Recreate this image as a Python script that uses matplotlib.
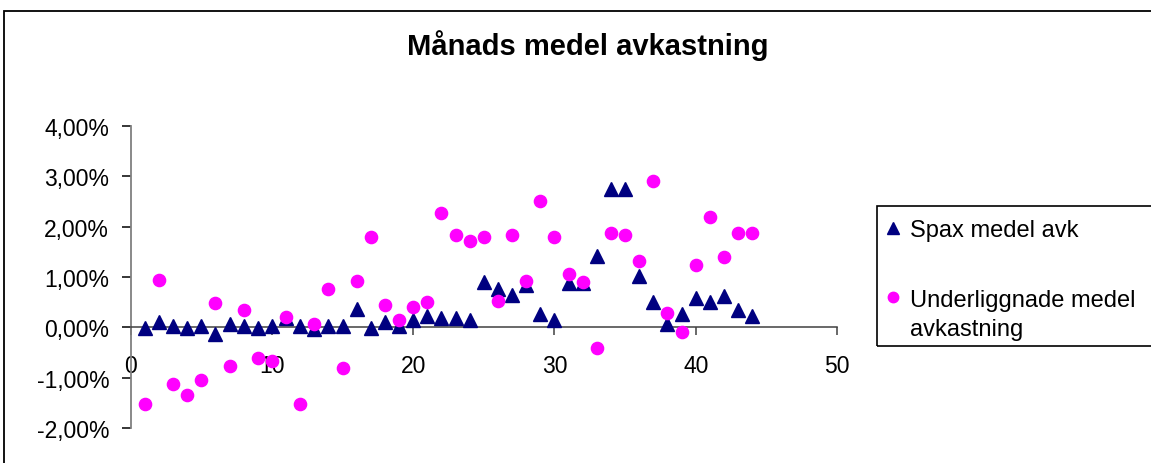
import matplotlib
matplotlib.use("Agg")
import matplotlib.pyplot as plt
from matplotlib.lines import Line2D
from matplotlib.patches import Rectangle
from matplotlib.ticker import FuncFormatter, MultipleLocator

plt.rcParams["font.family"] = ["Liberation Sans", "DejaVu Sans"]

# monthly mean returns, in percent
months = list(range(1, 45))
spax = [
    -0.02, 0.11, 0.02, -0.02, 0.02, -0.14, 0.06, 0.02, -0.02, 0.02,
    0.19, 0.02, -0.03, 0.02, 0.02, 0.36, -0.02, 0.11, 0.02, 0.14,
    0.23, 0.18, 0.18, 0.14, 0.90, 0.77, 0.65, 0.84, 0.26, 0.14,
    0.89, 0.89, 1.41, 2.75, 2.75, 1.02, 0.51, 0.06, 0.26, 0.59,
    0.51, 0.63, 0.34, 0.23,
]
underliggande = [
    -1.52, 0.94, -1.13, -1.35, -1.05, 0.49, -0.76, 0.34, -0.61, -0.66,
    0.21, -1.52, 0.06, 0.77, -0.80, 0.93, 1.80, 0.45, 0.14, 0.41,
    0.50, 2.27, 1.84, 1.72, 1.80, 0.53, 1.84, 0.92, 2.51, 1.80,
    1.05, 0.90, -0.42, 1.87, 1.84, 1.32, 2.90, 0.29, -0.10, 1.24,
    2.19, 1.40, 1.87, 1.87,
]

NAVY = "#000080"
MAGENTA = "#FF00FF"
W, H = 1151, 464

fig = plt.figure(figsize=(W / 100, H / 100), dpi=100)
fig.patch.set_facecolor("white")

# chart area border (runs off the right and bottom edges)
fig.add_artist(Rectangle((4 / W, -0.2), 1.2, 1.2 - 11.7 / H,
                         transform=fig.transFigure, fill=False,
                         edgecolor="black", linewidth=1.3))

ax = fig.add_axes([130.7 / W, 1 - 429 / H, (837 - 130.7) / W, (429 - 127) / H])
ax.set_facecolor("none")

ax.plot(months, spax, linestyle="none", marker="^", markersize=10.5,
        color=NAVY, markeredgecolor=NAVY, zorder=3, clip_on=False)
ax.plot(months, underliggande, linestyle="none", marker="o", markersize=8.8,
        color=MAGENTA, markeredgecolor=MAGENTA, zorder=4, clip_on=False)

ax.set_xlim(0, 50)
ax.set_ylim(-2, 4)
ax.xaxis.set_major_locator(MultipleLocator(10))
ax.yaxis.set_major_locator(MultipleLocator(1))
ax.yaxis.set_major_formatter(
    FuncFormatter(lambda v, _: f"{v:.2f}%".replace(".", ",")))

for side in ("top", "right"):
    ax.spines[side].set_visible(False)
ax.spines["left"].set_color("#808080")
ax.spines["left"].set_linewidth(1.3)
ax.spines["bottom"].set_position(("data", 0))
ax.spines["bottom"].set_color("#404040")
ax.spines["bottom"].set_linewidth(1.1)

ax.tick_params(axis="y", direction="out", length=6.5, width=1.1,
               color="black", pad=9, labelsize=16.5)
ax.tick_params(axis="x", direction="out", length=5.5, width=1.1,
               color="#404040", pad=14, labelsize=16.5)

fig.text(587.5 / W, 1 - 55 / H, "Månads medel avkastning", ha="center",
         va="baseline", fontsize=21, fontweight="bold")

# legend box (also runs past the right edge)
fig.add_artist(Rectangle((877 / W, 1 - 347 / H), 0.4, 140 / H,
                         transform=fig.transFigure, fill=False,
                         edgecolor="black", linewidth=1.2))
fig.add_artist(Line2D([893 / W], [1 - 229 / H], transform=fig.transFigure,
                      marker="^", markersize=8, color=NAVY, linestyle="none"))
fig.add_artist(Line2D([893 / W], [1 - 298 / H], transform=fig.transFigure,
                      marker="o", markersize=7.5, color=MAGENTA, linestyle="none"))
fig.text(910 / W, 1 - 229 / H, "Spax medel avk", ha="left",
         va="center_baseline", fontsize=17)
fig.text(910 / W, 1 - 298 / H, "Underliggnade medel", ha="left",
         va="center_baseline", fontsize=17)
fig.text(910 / W, 1 - 328 / H, "avkastning", ha="left",
         va="center_baseline", fontsize=17)

fig.savefig("out.png", dpi=100, facecolor="white")
